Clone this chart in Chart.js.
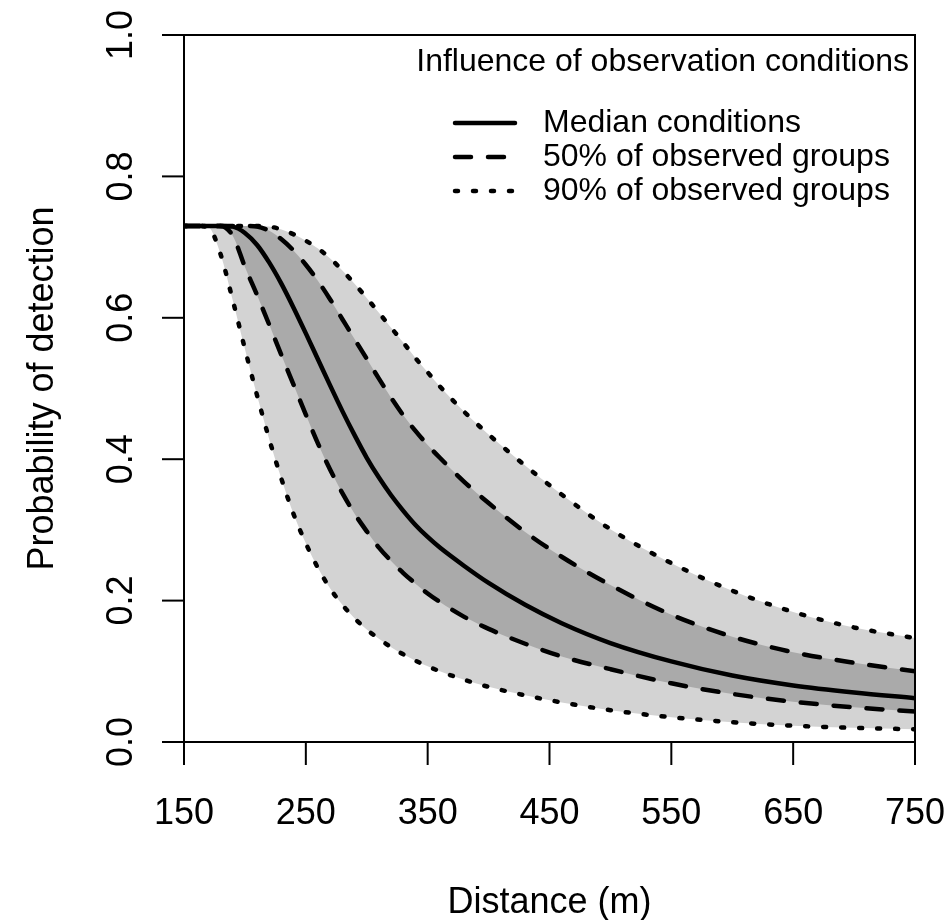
<!DOCTYPE html>
<html>
<head>
<meta charset="utf-8">
<script src="https://cdn.jsdelivr.net/npm/chart.js@4.4.1/dist/chart.umd.min.js"></script>
<style>
  body { margin: 0; background: #fff; }
  #wrap { width: 949px; height: 920px; }
</style>
</head>
<body>
<div id="wrap"><canvas id="detChart" width="949" height="920"></canvas></div>
<script>
// distance grid (m)
const distances = [150, 160, 170, 180, 190, 200, 210, 220, 230, 240, 250, 260, 270, 280, 290, 300,
                   310, 320, 330, 340, 350, 360, 380, 400, 430, 460, 500, 550, 600, 650, 700, 750];

// probability of detection
const medianCond = [0.73, 0.73, 0.73, 0.73, 0.729, 0.72, 0.703, 0.678, 0.648, 0.614, 0.578, 0.541, 0.504, 0.468, 0.434, 0.402,
                    0.374, 0.349, 0.327, 0.307, 0.290, 0.275, 0.249, 0.225, 0.194, 0.168, 0.140, 0.114, 0.094, 0.080, 0.070, 0.062];
const upper50 = [0.73, 0.73, 0.73, 0.73, 0.73, 0.73, 0.729, 0.723, 0.711, 0.695, 0.675, 0.652, 0.626, 0.598, 0.570, 0.542,
                 0.514, 0.487, 0.462, 0.440, 0.420, 0.402, 0.368, 0.338, 0.297, 0.262, 0.222, 0.180, 0.149, 0.127, 0.112, 0.100];
const lower50 = [0.73, 0.73, 0.73, 0.73, 0.716, 0.672, 0.632, 0.590, 0.547, 0.505, 0.463, 0.422, 0.385, 0.352, 0.323, 0.298,
                 0.275, 0.256, 0.239, 0.224, 0.210, 0.198, 0.177, 0.160, 0.139, 0.121, 0.103, 0.083, 0.068, 0.057, 0.049, 0.043];
const upper90 = [0.73, 0.73, 0.73, 0.73, 0.73, 0.73, 0.73, 0.729, 0.725, 0.718, 0.709, 0.698, 0.684, 0.667, 0.648, 0.628,
                 0.607, 0.586, 0.565, 0.543, 0.523, 0.503, 0.467, 0.435, 0.391, 0.350, 0.301, 0.253, 0.214, 0.184, 0.162, 0.147];
const lower90 = [0.73, 0.73, 0.728, 0.69, 0.625, 0.556, 0.49, 0.428, 0.372, 0.322, 0.281, 0.246, 0.217, 0.194, 0.175, 0.159,
                 0.146, 0.134, 0.124, 0.115, 0.107, 0.100, 0.088, 0.078, 0.066, 0.056, 0.045, 0.035, 0.028, 0.023, 0.020, 0.018];

const xTicks = [150, 250, 350, 450, 550, 650, 750];
const yTicks = [0.0, 0.2, 0.4, 0.6, 0.8, 1.0];

const legendTitle = 'Influence of observation conditions';
const legendLabels = ['Median conditions', '50% of observed groups', '90% of observed groups'];

const FONT = '"Liberation Sans", Arial, sans-serif';
const LWD = 4.5;
const DASHED = [16, 17];
const DOTTED = [3, 15];

const toPoints = (ys) => distances.map((d, i) => ({ x: d, y: ys[i] }));

const lineDataset = (label, ys, dash, extra = {}) => Object.assign({
    label: label,
    data: toPoints(ys),
    borderColor: '#000',
    borderWidth: LWD,
    borderDash: dash,
    borderCapStyle: 'round',
    borderJoinStyle: 'round',
    pointRadius: 0,
    cubicInterpolationMode: 'monotone',
    fill: false
}, extra);

// R-style frame, ticks, labels and legend
const rStylePlugin = {
    id: 'rStyle',
    afterDraw(chart) {
        const { ctx, chartArea: a, scales: { x, y } } = chart;
        ctx.save();
        ctx.strokeStyle = '#000';
        ctx.fillStyle = '#000';
        ctx.lineWidth = 2;
        ctx.setLineDash([]);
        ctx.strokeRect(a.left, a.top, a.right - a.left, a.bottom - a.top);

        ctx.font = '36px ' + FONT;
        ctx.textAlign = 'center';
        ctx.textBaseline = 'alphabetic';
        xTicks.forEach(v => {
            const px = x.getPixelForValue(v);
            ctx.beginPath();
            ctx.moveTo(px, a.bottom);
            ctx.lineTo(px, a.bottom + 23);
            ctx.stroke();
            ctx.fillText(String(v), px, 824);
        });
        yTicks.forEach(v => {
            const py = y.getPixelForValue(v);
            ctx.beginPath();
            ctx.moveTo(a.left - 22, py);
            ctx.lineTo(a.left, py);
            ctx.stroke();
            ctx.save();
            ctx.translate(132, py);
            ctx.rotate(-Math.PI / 2);
            ctx.fillText(v.toFixed(1), 0, 0);
            ctx.restore();
        });

        // axis titles
        ctx.fillText('Distance (m)', (a.left + a.right) / 2, 913);
        ctx.save();
        ctx.translate(53, (a.top + a.bottom) / 2);
        ctx.rotate(-Math.PI / 2);
        ctx.fillText('Probability of detection', 0, 0);
        ctx.restore();

        // legend
        ctx.font = '32px ' + FONT;
        ctx.textAlign = 'right';
        ctx.textBaseline = 'middle';
        ctx.fillText(legendTitle, 909, 62);
        const rowsY = [123, 157, 191];
        const dashes = [[], DASHED, DOTTED];
        ctx.textAlign = 'left';
        ctx.lineWidth = LWD;
        ctx.lineCap = 'round';
        legendLabels.forEach((lab, i) => {
            ctx.setLineDash(dashes[i]);
            ctx.beginPath();
            ctx.moveTo(455, rowsY[i]);
            ctx.lineTo(515, rowsY[i]);
            ctx.stroke();
            ctx.fillText(lab, 543, rowsY[i]);
        });
        ctx.restore();
    }
};

new Chart(document.getElementById('detChart'), {
    type: 'line',
    data: {
        datasets: [
            lineDataset('Median conditions', medianCond, []),
            lineDataset('50% upper', upper50, DASHED, { fill: 2, backgroundColor: '#aaaaaa' }),
            lineDataset('50% lower', lower50, DASHED),
            lineDataset('90% upper', upper90, DOTTED, { fill: 4, backgroundColor: '#d3d3d3' }),
            lineDataset('90% lower', lower90, DOTTED)
        ]
    },
    options: {
        responsive: false,
        animation: false,
        layout: { padding: { left: 184, right: 34, top: 35, bottom: 178 } },
        scales: {
            x: { type: 'linear', min: 150, max: 750, display: false },
            y: { type: 'linear', min: 0, max: 1, display: false }
        },
        plugins: {
            legend: { display: false },
            tooltip: { enabled: false },
            filler: { drawTime: 'beforeDatasetsDraw' }
        }
    },
    plugins: [rStylePlugin]
});
</script>
</body>
</html>
